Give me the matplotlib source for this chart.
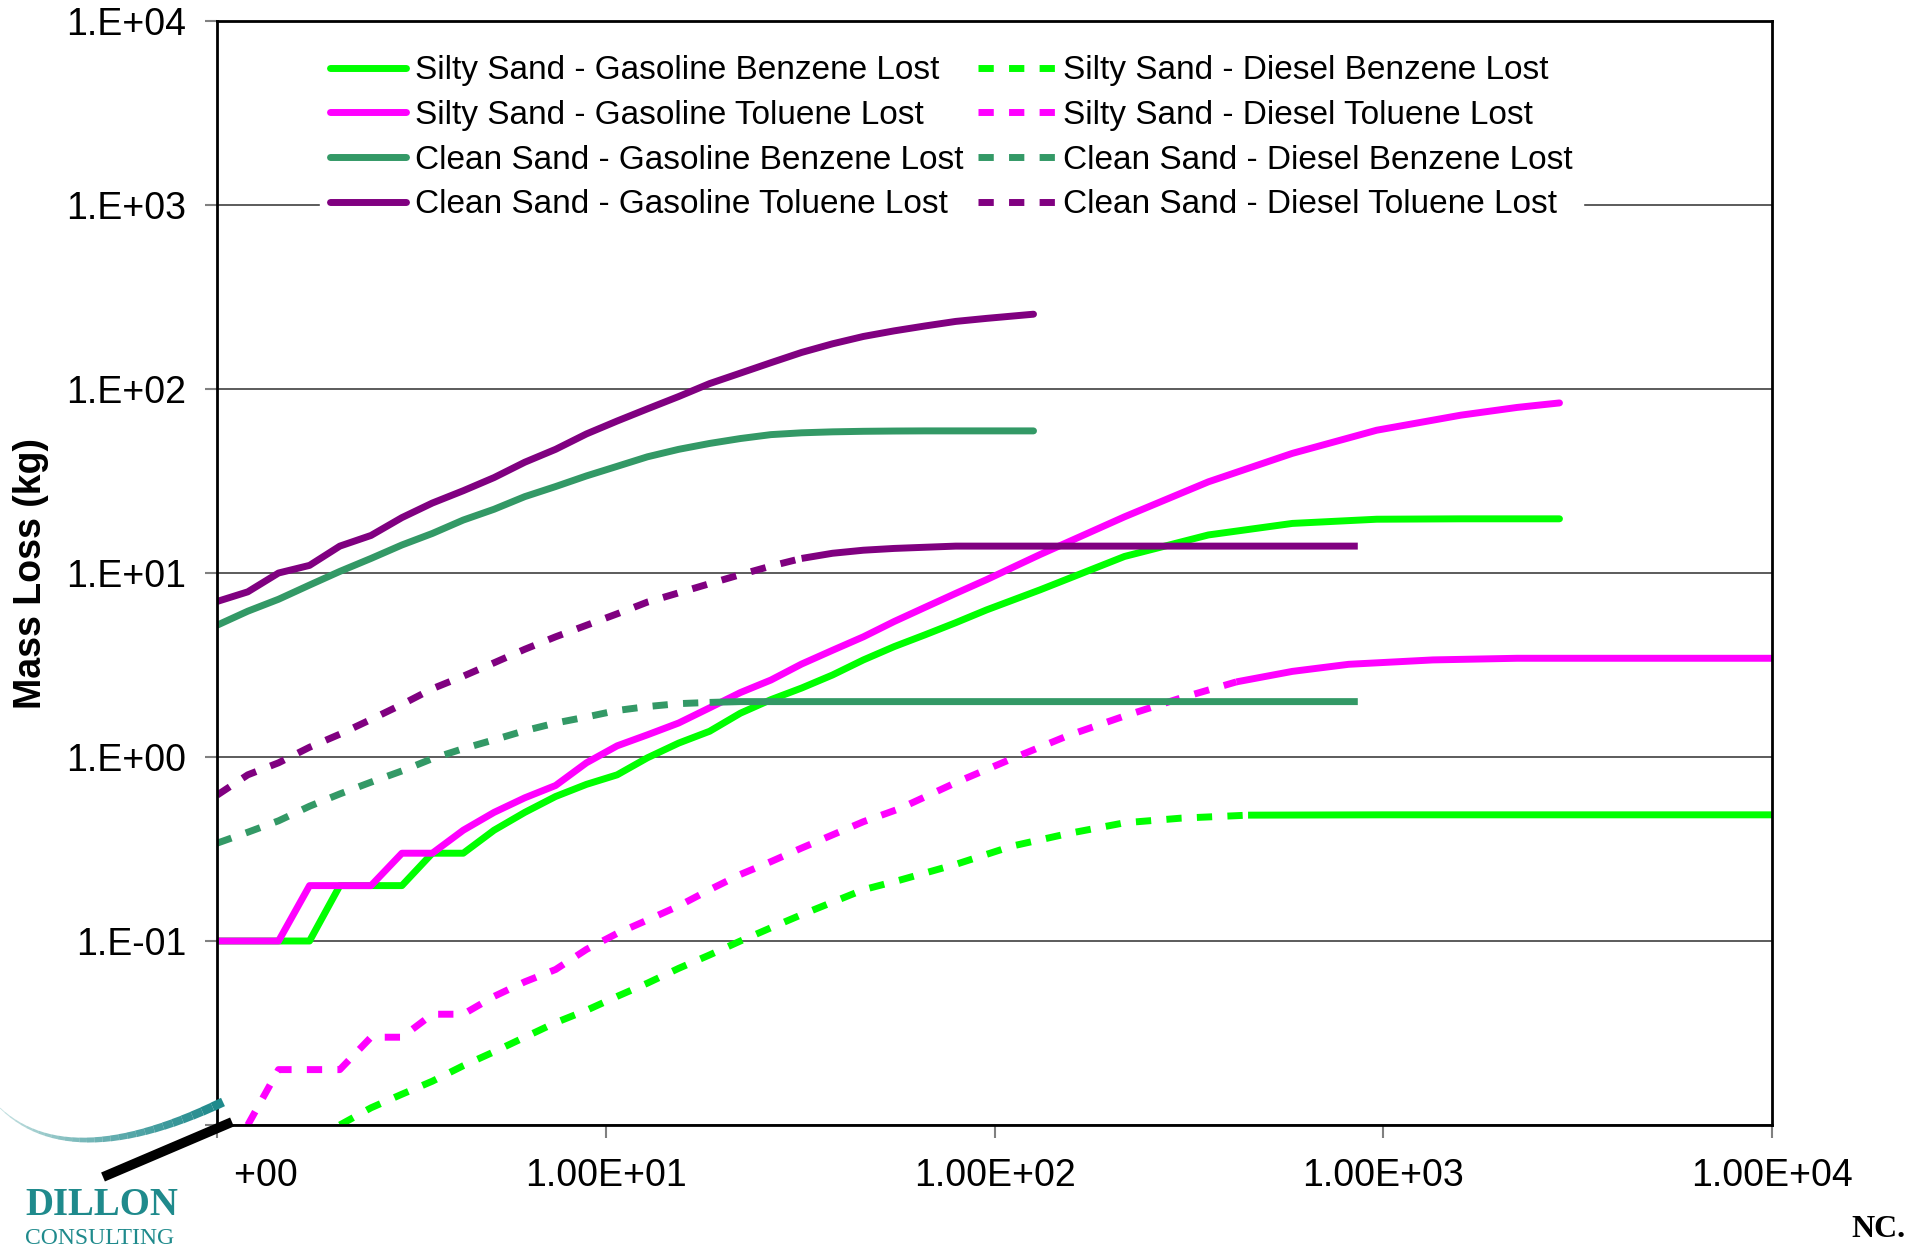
import numpy as np
import matplotlib.pyplot as plt
from matplotlib.lines import Line2D
from matplotlib.patches import Rectangle
from matplotlib.ticker import FixedLocator, FuncFormatter, NullLocator

plt.rcParams['font.family'] = ['Liberation Sans', 'DejaVu Sans']

# x values (time), log axis
x_gas_clean = [1, 1.2, 1.44, 1.73, 2.07, 2.49, 2.99, 3.58, 4.3, 5.16, 6.19, 7.43, 8.92, 10.7,
               12.8, 15.4, 18.5, 22.2, 26.6, 31.9, 38.3, 46, 55.2, 66.2, 79.5, 95.4, 126]
x_gas_silty = [1, 1.2, 1.44, 1.73, 2.07, 2.49, 2.99, 3.58, 4.3, 5.16, 6.19, 7.43, 8.92, 10.7,
               12.8, 15.4, 18.5, 22.2, 26.6, 31.9, 38.3, 46, 55.2, 66.2, 79.5, 95.4, 131, 216,
               355, 584, 962, 1585, 2210, 2840]
x_dsl_clean_tol = [1, 1.2, 1.44, 1.73, 2.07, 2.49, 2.99, 3.58, 4.3, 5.16, 6.19, 7.43, 8.92, 10.7,
                   12.8, 15.4, 18.5, 22.2, 26.6, 31.9, 38.3, 46, 55.2, 66.2, 79.5, 120, 200, 400, 860]
x_dsl_clean_ben = [1, 1.2, 1.44, 1.73, 2.07, 2.49, 2.99, 3.58, 4.3, 5.16, 6.19, 7.43, 8.92, 10.7,
                   12.8, 15.4, 18.5, 22.2, 40, 100, 300, 860]
x_dsl_silty_tol = [1.2, 1.44, 1.73, 2.07, 2.49, 2.99, 3.58, 4.3, 5.16, 6.19, 7.43, 8.92, 10.7, 12.8,
                   15.4, 18.5, 22.2, 26.6, 31.9, 46, 57, 80, 111, 155, 216, 301, 419, 584, 815,
                   1342, 2210, 10000]
x_dsl_silty_ben = [2.07, 2.49, 2.99, 3.58, 4.3, 5.16, 6.19, 7.43, 8.92, 10.7, 12.8, 15.4, 18.5,
                   22.2, 26.6, 31.9, 46, 57, 80, 111, 155, 216, 301, 449, 1000, 3000, 10000]

# mass loss (kg)
silty_gas_benzene = [0.1, 0.1, 0.1, 0.1, 0.2, 0.2, 0.2, 0.3, 0.3, 0.4, 0.5, 0.61, 0.71, 0.8,
                     0.99, 1.19, 1.38, 1.73, 2.05, 2.37, 2.79, 3.37, 3.98, 4.61, 5.37, 6.3, 8.1,
                     12.3, 16.1, 18.6, 19.6, 19.7, 19.7, 19.7]
silty_gas_toluene = [0.1, 0.1, 0.1, 0.2, 0.2, 0.2, 0.3, 0.3, 0.4, 0.5, 0.6, 0.7, 0.93, 1.15,
                     1.32, 1.53, 1.85, 2.24, 2.62, 3.2, 3.8, 4.5, 5.45, 6.5, 7.75, 9.2, 12.6,
                     20.2, 31.3, 44.7, 59.7, 72.1, 79.4, 84.0]
clean_gas_benzene = [5.2, 6.2, 7.2, 8.6, 10.2, 12.0, 14.2, 16.4, 19.4, 22.2, 26.0, 29.5, 33.7,
                     38.0, 42.8, 47.0, 50.6, 53.8, 56.5, 57.8, 58.5, 58.9, 59.1, 59.2, 59.2, 59.2, 59.2]
clean_gas_toluene = [7.0, 7.9, 10.0, 11.0, 14.0, 16.0, 20.0, 24.0, 28.0, 33.0, 40.0, 47.0, 57.0,
                     67.0, 78.0, 91.0, 107, 122, 139, 158, 176, 193, 207, 220, 233, 242, 255]
silty_dsl_benzene = [0.01, 0.0124, 0.0147, 0.0173, 0.021, 0.025, 0.030, 0.036, 0.042, 0.050,
                     0.059, 0.071, 0.084, 0.10, 0.118, 0.139, 0.19, 0.214, 0.262, 0.328, 0.384,
                     0.439, 0.465, 0.483, 0.485, 0.485, 0.485]
silty_dsl_toluene = [0.01, 0.02, 0.02, 0.02, 0.03, 0.03, 0.04, 0.04, 0.05, 0.06, 0.07, 0.09,
                     0.11, 0.13, 0.155, 0.19, 0.23, 0.27, 0.32, 0.445, 0.524, 0.73, 0.98, 1.31,
                     1.67, 2.09, 2.56, 2.92, 3.19, 3.37, 3.44, 3.44]
clean_dsl_benzene = [0.34, 0.39, 0.45, 0.54, 0.63, 0.73, 0.84, 0.98, 1.11, 1.24, 1.39, 1.53,
                     1.65, 1.79, 1.88, 1.95, 1.98, 2.0, 2.0, 2.0, 2.0, 2.0]
clean_dsl_toluene = [0.62, 0.80, 0.93, 1.13, 1.33, 1.60, 1.93, 2.35, 2.75, 3.25, 3.85, 4.5, 5.2,
                     6.0, 6.95, 7.8, 8.75, 9.8, 10.9, 12.0, 12.8, 13.3, 13.6, 13.8, 14.0, 14.0,
                     14.0, 14.0, 14.0]

GREEN = '#00FF00'
MAGENTA = '#FF00FF'
SEA = '#339966'
PURPLE = '#800080'
TEAL = '#1f8a8c'

# (label, x, y, color, dashed, x where dense points make the dash look solid)
series = [
    ('Silty Sand - Gasoline Benzene Lost', x_gas_silty, silty_gas_benzene, GREEN, False, None),
    ('Silty Sand - Gasoline Toluene Lost', x_gas_silty, silty_gas_toluene, MAGENTA, False, None),
    ('Clean Sand - Gasoline Benzene Lost', x_gas_clean, clean_gas_benzene, SEA, False, None),
    ('Clean Sand - Gasoline Toluene Lost', x_gas_clean, clean_gas_toluene, PURPLE, False, None),
    ('Silty Sand - Diesel Benzene Lost', x_dsl_silty_ben, silty_dsl_benzene, GREEN, True, 449),
    ('Silty Sand - Diesel Toluene Lost', x_dsl_silty_tol, silty_dsl_toluene, MAGENTA, True, 419),
    ('Clean Sand - Diesel Benzene Lost', x_dsl_clean_ben, clean_dsl_benzene, SEA, True, 18.5),
    ('Clean Sand - Diesel Toluene Lost', x_dsl_clean_tol, clean_dsl_toluene, PURPLE, True, 31.9),
]

W, H = 1923, 1249
fig = plt.figure(figsize=(W / 100, H / 100), dpi=100)
ax = fig.add_axes([217 / W, 1 - 1125 / H, (1772 - 217) / W, (1125 - 21) / H])

LW = 5
for label, x, y, color, dashed, tail in series:
    x = np.array(x)
    y = np.array(y)
    if not dashed:
        ax.plot(x, y, color=color, lw=LW, solid_capstyle='round',
                solid_joinstyle='round', label=label)
    else:
        head = x <= tail
        ax.plot(x[head], y[head], color=color, lw=LW, dashes=(2.2, 2.2),
                dash_capstyle='butt', label=label)
        ax.plot(x[x >= tail], y[x >= tail], color=color, lw=LW,
                solid_capstyle='butt')

ax.set_xscale('log')
ax.set_yscale('log')
ax.set_xlim(1, 1e4)
ax.set_ylim(1e-2, 1e4)

ax.xaxis.set_major_locator(FixedLocator([1, 10, 100, 1000, 10000]))
ax.xaxis.set_minor_locator(NullLocator())
ax.xaxis.set_major_formatter(FuncFormatter(lambda v, p: f"1.00E{int(round(np.log10(v))):+03d}"))
ax.yaxis.set_major_locator(FixedLocator([1e-2, 1e-1, 1, 10, 100, 1000, 1e4]))
ax.yaxis.set_minor_locator(NullLocator())
ax.yaxis.set_major_formatter(FuncFormatter(
    lambda v, p: "" if v < 0.05 else f"1.E{int(round(np.log10(v))):+03d}"))

ax.tick_params(axis='both', direction='out', length=9, width=1.5, color='#808080',
               labelsize=27, pad=13)
ax.tick_params(axis='x', pad=15)
ax.yaxis.grid(True, color='#404040', lw=1.2)
ax.set_axisbelow(True)
for s in ax.spines.values():
    s.set_linewidth(2)
    s.set_color('black')

ax.set_ylabel('Mass Loss (kg)', fontsize=27, fontweight='bold')
ax.yaxis.set_label_coords(-0.108, 0.5)

leg = ax.legend(loc='upper left', bbox_to_anchor=(0.066, 0.978), ncol=2, fontsize=24,
                frameon=True, fancybox=False, edgecolor='white', framealpha=1,
                handlelength=2.3, handletextpad=0.25, columnspacing=0.45,
                labelspacing=0.41, borderpad=0.3, borderaxespad=0)

# logo area (covers the start of the first x label like in the slide)
fig.add_artist(Rectangle((0, 0), 235 / W, (H - 1145) / H, transform=fig.transFigure,
                         facecolor='white', edgecolor='none', zorder=5))
t = np.linspace(0, 1, 30)
p0, p1, p2 = np.array([0, 1108]), np.array([70, 1175]), np.array([223, 1102])
curve = (1 - t)[:, None] ** 2 * p0 + 2 * ((1 - t) * t)[:, None] * p1 + (t ** 2)[:, None] * p2
for i in range(len(t) - 1):
    f = i / (len(t) - 2)
    fig.add_artist(Line2D(curve[i:i + 2, 0] / W, 1 - curve[i:i + 2, 1] / H,
                          transform=fig.transFigure, color=TEAL, lw=0.6 + 6 * f,
                          alpha=0.25 + 0.75 * f, solid_capstyle='butt', zorder=6))
fig.add_artist(Line2D(np.array([103, 232]) / W, 1 - np.array([1177, 1122]) / H,
                      transform=fig.transFigure, color='black', lw=7,
                      solid_capstyle='butt', zorder=6))
fig.text(25 / W, 1 - 1215 / H, 'DILLON', fontsize=28, fontweight='bold',
         family=['Liberation Serif', 'DejaVu Serif'], color=TEAL, zorder=7)
fig.text(25 / W, 1 - 1244 / H, 'CONSULTING', fontsize=17,
         family=['Liberation Serif', 'DejaVu Serif'], color=TEAL, zorder=7)
fig.text(1906 / W, 1 - 1237 / H, 'NC.', fontsize=23, fontweight='bold',
         family=['Liberation Serif', 'DejaVu Serif'], ha='right', zorder=7)

fig.savefig('out.png', dpi=100)
